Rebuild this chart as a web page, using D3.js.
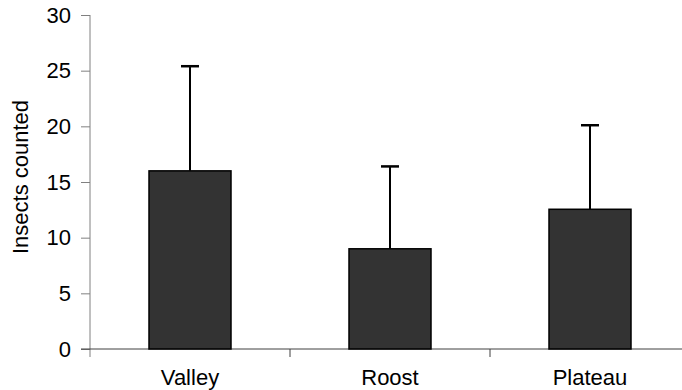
<!DOCTYPE html>
<html>
<head>
<meta charset="utf-8">
<script src="https://cdn.jsdelivr.net/npm/d3@7"></script>
<style>
  body { margin: 0; background: #fff; }
  svg { display: block; font-family: "Liberation Sans", Arial, sans-serif; }
</style>
</head>
<body>
<svg id="chart" width="682" height="390"></svg>
<script>
const sites = ["Valley", "Roost", "Plateau"];
const means = [16.0, 9.0, 12.55];
const errors = [9.4, 7.4, 7.55];
const yTicks = [0, 5, 10, 15, 20, 25, 30];

const rows = sites.map((s, i) => ({ site: s, mean: means[i], err: errors[i] }));

const svg = d3.select("#chart");
const plotLeft = 90, plotTop = 15, plotBottom = 349;

const x = d3.scaleBand()
  .domain(sites)
  .range([plotLeft, plotLeft + 600])
  .padding(0);

const y = d3.scaleLinear()
  .domain([0, 30])
  .range([plotBottom, plotTop]);

// y axis
svg.append("g")
  .attr("transform", `translate(${plotLeft},0)`)
  .call(d3.axisLeft(y).tickValues(yTicks).tickSize(9).tickPadding(10).tickSizeOuter(0))
  .call(g => g.select(".domain").remove())
  .call(g => g.selectAll(".tick line").attr("stroke", "#808080"))
  .call(g => g.selectAll(".tick text")
    .attr("font-size", 22)
    .attr("fill", "#000")
    .attr("font-family", "Liberation Sans, Arial, sans-serif"));

svg.append("line")
  .attr("x1", plotLeft).attr("x2", plotLeft)
  .attr("y1", plotTop).attr("y2", plotBottom + 8)
  .attr("stroke", "#808080");

// x axis
svg.append("line")
  .attr("x1", plotLeft - 9).attr("x2", 682)
  .attr("y1", plotBottom).attr("y2", plotBottom)
  .attr("stroke", "#404040");

svg.append("g")
  .selectAll("line")
  .data(sites.slice(1))
  .join("line")
  .attr("x1", d => x(d)).attr("x2", d => x(d))
  .attr("y1", plotBottom).attr("y2", plotBottom + 8)
  .attr("stroke", "#404040");

// bars
const barW = x.bandwidth() * 0.41;
svg.append("g")
  .selectAll("rect")
  .data(rows)
  .join("rect")
  .attr("x", d => x(d.site) + x.bandwidth() / 2 - barW / 2)
  .attr("width", barW)
  .attr("y", d => y(d.mean))
  .attr("height", d => y(0) - y(d.mean))
  .attr("fill", "#333333")
  .attr("stroke", "#000")
  .attr("stroke-width", 1.5);

// error bars
const eb = svg.append("g").attr("stroke", "#000");
eb.selectAll("line.stem")
  .data(rows)
  .join("line")
  .attr("class", "stem")
  .attr("x1", d => x(d.site) + x.bandwidth() / 2)
  .attr("x2", d => x(d.site) + x.bandwidth() / 2)
  .attr("y1", d => y(d.mean))
  .attr("y2", d => y(d.mean + d.err))
  .attr("stroke-width", 2);
eb.selectAll("line.cap")
  .data(rows)
  .join("line")
  .attr("class", "cap")
  .attr("x1", d => x(d.site) + x.bandwidth() / 2 - 9)
  .attr("x2", d => x(d.site) + x.bandwidth() / 2 + 9)
  .attr("y1", d => y(d.mean + d.err))
  .attr("y2", d => y(d.mean + d.err))
  .attr("stroke-width", 2.5);

// category labels
svg.append("g")
  .selectAll("text")
  .data(sites)
  .join("text")
  .attr("x", d => x(d) + x.bandwidth() / 2)
  .attr("y", 385)
  .attr("text-anchor", "middle")
  .attr("font-size", 22)
  .text(d => d);

// y label
svg.append("text")
  .attr("transform", `translate(28,${(plotTop + plotBottom) / 2 - 5}) rotate(-90)`)
  .attr("text-anchor", "middle")
  .attr("font-size", 22)
  .text("Insects counted");
</script>
</body>
</html>
